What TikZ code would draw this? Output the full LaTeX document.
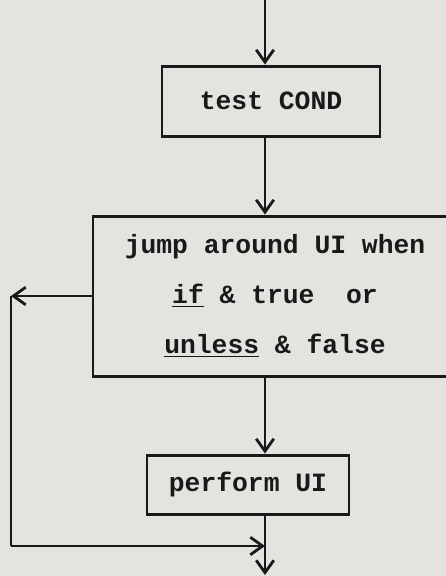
\documentclass[tikz,border=0pt]{standalone}
\usepackage{fontspec}
\setmonofont{Liberation Mono}
\usetikzlibrary{arrows.meta}
\definecolor{paper}{rgb}{0.89,0.89,0.88}
\definecolor{ink}{rgb}{0.1,0.1,0.1}

\begin{document}
\begin{tikzpicture}[x=0.02cm, y=-0.02cm,
    % Define the style for the boxes
    flowbox/.style={
        draw=ink, line width=1.7pt, fill=paper, align=center, inner sep=0pt,
        font=\ttfamily\bfseries\fontsize{15}{28.5}\selectfont, text=ink
    },
    % Define the style for the connectors
    flowline/.style={draw=ink, line width=1.6pt},
    flowarrow/.style={flowline, -{Straight Barb[length=7pt,width=10pt,line width=1.6pt]}}
]

% Paper background
\fill[paper] (0,0) rectangle (446,576);
\useasboundingbox (0,0) rectangle (446,576);

% Define the points of the main line and of the loop
\coordinate (top) at (265,0);
\coordinate (loopA) at (11,296);
\coordinate (loopB) at (11,546);
\coordinate (merge) at (265,546);
\coordinate (bottom) at (265,575);

% Draw the boxes
\node[flowbox, minimum width=218*0.02cm, minimum height=70*0.02cm] (test) at (271,101) {test COND};
\node[flowbox, minimum width=364*0.02cm, minimum height=160*0.02cm] (jump) at (275,296)
    {jump around UI when\\\underline{if} \& true\ \ or\\\underline{unless} \& false};
\node[flowbox, minimum width=202*0.02cm, minimum height=59*0.02cm] (perform) at (248,484.5) {perform UI};

% Draw the main line
\draw[flowarrow] (top) -- (test.north -| top);
\draw[flowarrow] (test.south -| top) -- (jump.north -| top);
\draw[flowarrow] (jump.south -| top) -- (perform.north -| top);
\draw[flowline] (perform.south -| top) -- (merge);
\draw[flowarrow] (merge) -- (bottom);

% Draw the jump around the box
\draw[flowarrow] (jump.west) -- (loopA);
\draw[flowline] (loopA) -- (loopB);
\draw[flowarrow] (loopB) -- (merge);

\end{tikzpicture}
\end{document}
